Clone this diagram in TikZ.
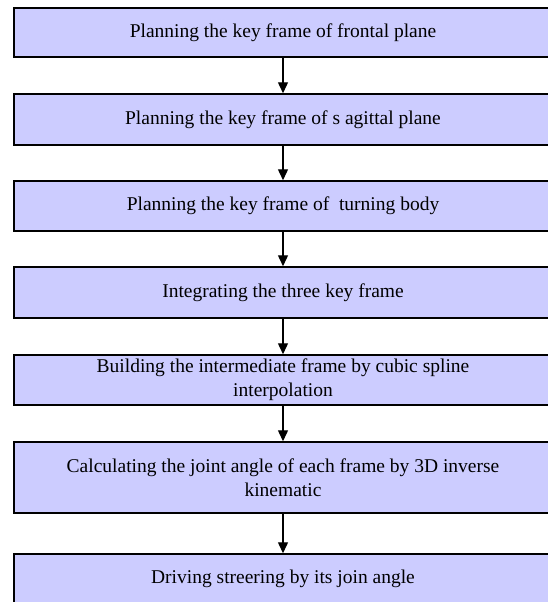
\documentclass[tikz,border=0pt]{standalone}
\usepackage{fontspec}
\setmainfont{Liberation Serif}
\usetikzlibrary{arrows.meta}
\definecolor{boxfill}{HTML}{CCCCFF}
\begin{document}
\begin{tikzpicture}[x=1pt,y=-1pt,
  stepbox/.style={draw=black,line width=1.5pt,fill=boxfill,rectangle,
    minimum width=538pt,inner sep=0pt,align=center,
    font=\fontsize{19.5}{24}\selectfont},
  flow/.style={draw=black,line width=1.4pt,-{Triangle[width=10pt,length=11pt]}}]
\useasboundingbox (0,0) rectangle (547,602);
\node[stepbox,minimum height=49pt] (b1) at (283,32.5) {Planning the key frame of frontal plane};
\node[stepbox,minimum height=51pt] (b2) at (283,119.5) {Planning the key frame of s agittal plane};
\node[stepbox,minimum height=50pt] (b3) at (283,206) {Planning the key frame of \ turning body};
\node[stepbox,minimum height=51pt] (b4) at (283,292.5) {Integrating the three key frame};
\node[stepbox,minimum height=50pt] (b5) at (283,380) {Building the intermediate frame by cubic spline\\interpolation};
\node[stepbox,minimum height=71pt] (b6) at (283,477.5) {Calculating the joint angle of each frame by 3D inverse\\kinematic};
\node[stepbox,minimum height=50pt] (b7) at (283,579) {Driving streering by its join angle};
\draw[flow] (b1.south) -- (b2.north);
\draw[flow] (b2.south) -- (b3.north);
\draw[flow] (b3.south) -- (b4.north);
\draw[flow] (b4.south) -- (b5.north);
\draw[flow] (b5.south) -- (b6.north);
\draw[flow] (b6.south) -- (b7.north);
\end{tikzpicture}
\end{document}
